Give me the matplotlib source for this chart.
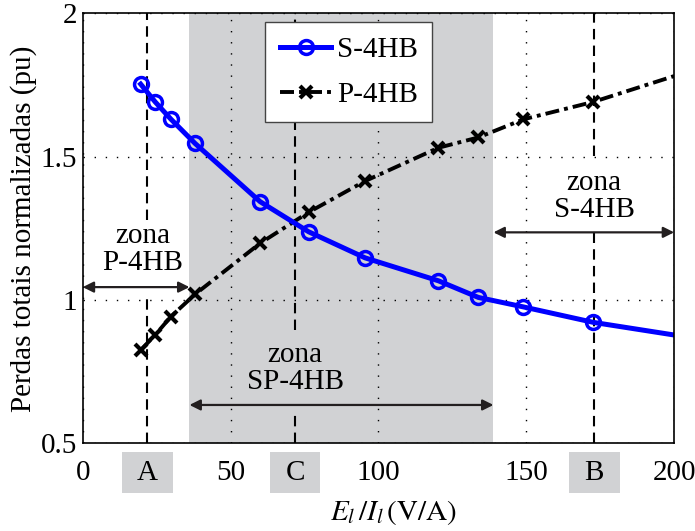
import matplotlib
matplotlib.use("Agg")
import matplotlib.pyplot as plt
from matplotlib.patches import Rectangle

plt.rcParams['font.family'] = ['Liberation Serif', 'DejaVu Serif']
plt.rcParams['mathtext.fontset'] = 'stix'
plt.rcParams['font.size'] = 21

# E_l / I_l (V/A)
x_vals = [19.6, 24.5, 29.8, 38.0, 60.0, 76.4, 95.5, 120.3, 133.8, 149.0, 172.7, 200.0]
s4hb = [1.753, 1.691, 1.631, 1.546, 1.343, 1.238, 1.147, 1.067, 1.009, 0.976, 0.922, 0.878]
p4hb = [0.825, 0.878, 0.942, 1.020, 1.198, 1.306, 1.415, 1.531, 1.567, 1.630, 1.691, 1.781]

# operating points A, C, B and zone limits
point_names = ['A', 'C', 'B']
point_x = [21.9, 71.8, 173.0]
zone_p_end = 36.1
zone_sp_end = 138.9

shade = '#d1d2d4'
arrow_col = '#231f20'

fig = plt.figure(figsize=(6.95, 5.31), dpi=100)
ax = fig.add_axes([0.119, 0.165, 0.851, 0.81])

ax.axvspan(zone_p_end, zone_sp_end, color=shade, lw=0, zorder=0)

# dashed vertical lines at A, C, B (broken where the zone texts sit)
gaps = [(1.024, 1.279), (0.609, 0.895), (1.233, 1.502)]
for xp, (g0, g1) in zip(point_x, gaps):
    ax.plot([xp, xp], [0.5, g0], color='k', lw=1.5, ls=(0, (5, 3)), zorder=1)
    ax.plot([xp, xp], [g1, 2.0], color='k', lw=1.5, ls=(0, (5, 3)), zorder=1)

mk = list(range(len(x_vals) - 1))
ax.plot(x_vals, s4hb, color='#0000ff', lw=3.6, marker='o', ms=10,
        mfc='none', mew=2.5, markevery=mk, label='S-4HB', zorder=4)
ax.plot(x_vals, p4hb, color='k', lw=2.8, ls=(0, (3.6, 1.3, 1.0, 1.3)),
        marker='x', ms=8.5, mew=3, markevery=mk, label='P-4HB', zorder=3)

# zone arrows
arrow_kw = dict(arrowstyle='<|-|>', color=arrow_col, lw=1.6,
                mutation_scale=16, shrinkA=0, shrinkB=0)
ax.annotate('', xy=(0, 1.045), xytext=(zone_p_end, 1.045), arrowprops=arrow_kw, zorder=5)
ax.annotate('', xy=(zone_p_end, 0.634), xytext=(zone_sp_end, 0.634), arrowprops=arrow_kw, zorder=5)
ax.annotate('', xy=(zone_sp_end, 1.236), xytext=(200, 1.236), arrowprops=arrow_kw, zorder=5)

ax.text(20.4, 1.177, 'zona\nP-4HB', ha='center', va='center', linespacing=1.05)
ax.text(point_x[1], 0.76, 'zona\nSP-4HB', ha='center', va='center', linespacing=1.05)
ax.text(point_x[2], 1.362, 'zona\nS-4HB', ha='center', va='center', linespacing=1.05)

# A, C, B labels in grey boxes under the axis
xtr = ax.get_xaxis_transform()
for name, xp in zip(point_names, point_x):
    ax.add_patch(Rectangle((xp - 8.6, -0.1156), 17.2, 0.0953, transform=xtr,
                           facecolor=shade, edgecolor='none', clip_on=False))
    ax.text(xp, -0.068, name, transform=xtr, ha='center', va='center')

ax.set_xlim(0, 200)
ax.set_ylim(0.5, 2)
ax.set_xticks([0, 50, 100, 150, 200])
ax.set_yticks([0.5, 1, 1.5, 2])
ax.set_yticklabels(['0.5', '1', '1.5', '2'])
ax.tick_params(direction='in', length=0)
ax.tick_params(axis='x', pad=12)
ax.tick_params(axis='y', pad=4)
ax.grid(True, color='k', ls=(0, (1, 7)), lw=1.0)
for sp in ax.spines.values():
    sp.set_linewidth(1.2)
    sp.set_zorder(6)

ax.set_xlabel(r'$E_l\,/I_l\,(\mathrm{V/A})$')
ax.xaxis.set_label_coords(0.525, -0.128)
ax.set_ylabel('Perdas totais normalizadas (pu)')
ax.yaxis.set_label_coords(-0.078, 0.5)

leg = ax.legend(loc='upper left', bbox_to_anchor=(0.309, 0.979), fancybox=False,
                framealpha=1, edgecolor='#444444', handlelength=1.75,
                labelspacing=0.62, borderpad=0.5, handletextpad=0.2,
                borderaxespad=0)
leg.get_frame().set_linewidth(1.0)
leg.set_zorder(7)

fig.savefig('out.png', dpi=100)
